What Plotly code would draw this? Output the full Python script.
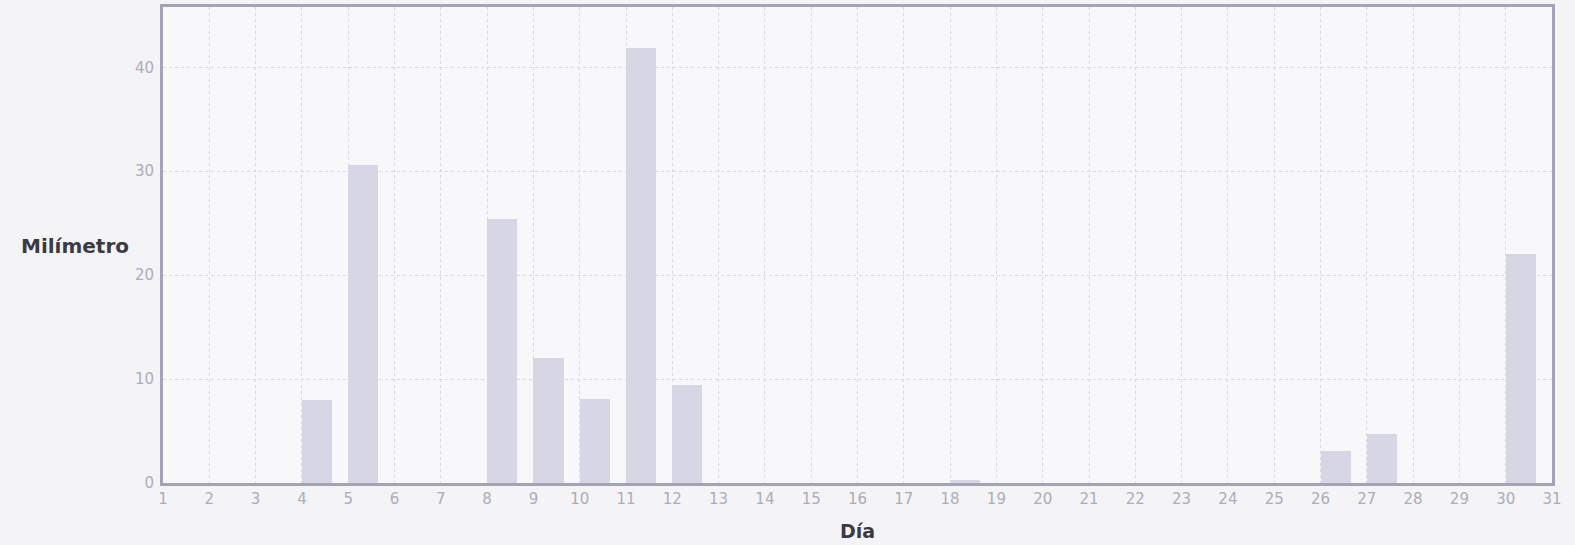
import plotly.graph_objects as go

days = list(range(1, 31))
rain_mm = [0, 0, 0, 8.0, 30.6, 0, 0, 25.4, 12.0, 8.1, 41.9, 9.4, 0, 0, 0, 0, 0, 0.3,
           0, 0, 0, 0, 0, 0, 0, 3.1, 4.7, 0, 0, 22.0]
x_ticks = list(range(1, 32))
y_ticks = [0, 10, 20, 30, 40]

fig = go.Figure()
fig.add_trace(go.Bar(
    x=days, y=rain_mm, width=0.65, offset=0,
    marker=dict(color="#d6d6e4", line=dict(width=0)),
    hoverinfo="x+y", showlegend=False,
))

axis_font = dict(family="DejaVu Sans, Verdana, sans-serif", size=15, color="#adadb8")
fig.update_layout(
    width=1575, height=545,
    margin=dict(l=163, r=23, t=4, b=62),
    paper_bgcolor="#f4f3f6",
    plot_bgcolor="#f8f8fa",
    bargap=0,
    xaxis=dict(
        range=[1, 31], tickmode="array", tickvals=x_ticks, ticktext=[str(t) for t in x_ticks],
        showgrid=True, gridcolor="#d8d8e0", griddash="dot", gridwidth=1,
        showline=True, linecolor="#a3a3b6", linewidth=3, mirror=True,
        ticks="", tickfont=axis_font, zeroline=False,
    ),
    yaxis=dict(
        range=[0, 45.8], tickmode="array", tickvals=y_ticks,
        showgrid=True, gridcolor="#d8d8e0", griddash="dot", gridwidth=1,
        showline=True, linecolor="#a3a3b6", linewidth=3, mirror=True,
        ticks="", tickfont=axis_font, zeroline=False, ticklabelstandoff=3,
    ),
    annotations=[
        dict(text="<b>Milímetro</b>", xref="paper", yref="paper", x=0, y=0.497,
             xanchor="center", yanchor="middle", xshift=-88, showarrow=False,
             font=dict(family="DejaVu Sans, Verdana, sans-serif", size=20, color="#3a3a42")),
        dict(text="<b>Día</b>", xref="paper", yref="paper", x=0.5, y=0, yshift=-48,
             xanchor="center", yanchor="middle", showarrow=False,
             font=dict(family="DejaVu Sans, Verdana, sans-serif", size=19, color="#3a3a42")),
    ],
)

fig.write_html(
    "out.html",
    config={"displayModeBar": False},
    post_script="document.body.style.margin='0';document.body.style.overflow='hidden';document.body.style.background='#f4f3f6';",
)
